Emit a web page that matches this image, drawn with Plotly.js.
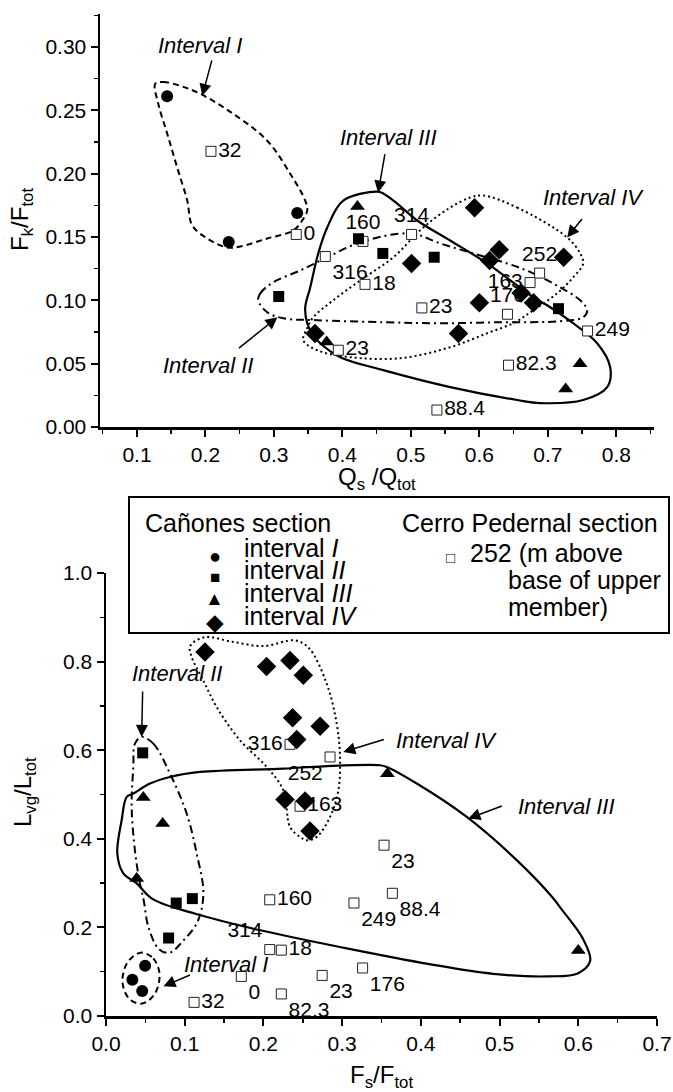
<!DOCTYPE html>
<html><head><meta charset="utf-8">
<script src="https://cdn.plot.ly/plotly-3.0.1.min.js"></script>
<style>html,body{margin:0;padding:0;background:#fff}#chart{width:673px;height:1092px}</style>
</head><body><div id="chart"></div>
<script>
// ---------- Top panel data (Qs/Qtot vs Fk/Ftot) ----------
const topCircleX = [0.144, 0.334, 0.234];
const topCircleY = [0.261, 0.169, 0.146];
const topSquareX = [0.307, 0.4235, 0.459, 0.534, 0.7155];
const topSquareY = [0.103, 0.1486, 0.137, 0.134, 0.0934];
const topTriX = [0.422, 0.377, 0.747, 0.726];
const topTriY = [0.174, 0.067, 0.050, 0.030];
const topDiamondX = [0.593, 0.501, 0.629, 0.615, 0.723, 0.600, 0.661, 0.679, 0.360, 0.5695];
const topDiamondY = [0.173, 0.129, 0.140, 0.1315, 0.134, 0.098, 0.1058, 0.098, 0.0738, 0.0738];
const topCPX = [0.208, 0.3326, 0.430, 0.501, 0.375, 0.433, 0.516, 0.394, 0.688, 0.674, 0.641, 0.758, 0.6425, 0.538];
const topCPY = [0.2176, 0.152, 0.1465, 0.152, 0.1346, 0.1126, 0.094, 0.0606, 0.1215, 0.114, 0.089, 0.0758, 0.0488, 0.0134];
const topCPLabels = ['32','0','160','314','316','18','23','23','252','163','176','249','82.3','88.4'];
const topCPLabelPos = ['middle right','middle right','top center','top center','bottom right','middle right','middle right','middle right','top center','middle left','top center','middle right','middle right','middle right'];

// outlines (top)
const topOutIx = [0.1267,0.1384,0.1632,0.1924,0.2406,0.2902,0.3238,0.3457,0.3486,0.3413,0.3282,0.2902,0.2508,0.2318,0.2026,0.1807,0.1734,0.1588,0.1442,0.1311,0.1267];
const topOutIy = [0.2709,0.2724,0.2693,0.2630,0.2472,0.2260,0.1999,0.1787,0.1709,0.1630,0.1551,0.1488,0.1425,0.1417,0.1488,0.1591,0.1787,0.2047,0.2315,0.2551,0.2709];
const topOutIIx = [0.2771,0.2800,0.2990,0.3384,0.3749,0.4260,0.4990,0.5428,0.5910,0.6406,0.6786,0.7180,0.7472,0.7574,0.7516,0.7180,0.6304,0.5428,0.4596,0.3632,0.3136,0.2902,0.2771];
const topOutIIy = [0.1000,0.1055,0.1142,0.1236,0.1331,0.1457,0.1528,0.1449,0.1370,0.1291,0.1213,0.1102,0.1000,0.0921,0.0866,0.0835,0.0827,0.0819,0.0827,0.0843,0.0858,0.0906,0.1000];
const topOutIIIx = [0.4508,0.4012,0.3778,0.3647,0.3530,0.3457,0.3486,0.3574,0.3676,0.3968,0.4596,0.5574,0.6552,0.6888,0.7516,0.7866,0.7910,0.7720,0.7369,0.6990,0.6786,0.6114,0.5574,0.5092,0.4800,0.4596,0.4508];
const topOutIIIy = [0.1858,0.1787,0.1575,0.1370,0.1102,0.0945,0.0819,0.0724,0.0661,0.0551,0.0449,0.0315,0.0213,0.0189,0.0213,0.0315,0.0472,0.0661,0.0819,0.0961,0.1024,0.1291,0.1472,0.1630,0.1764,0.1843,0.1858];
const topOutIVx = [0.6056,0.6552,0.7282,0.7472,0.7516,0.7369,0.7136,0.6786,0.6523,0.6114,0.5574,0.4844,0.4114,0.3632,0.3428,0.3486,0.3574,0.3866,0.4260,0.4742,0.5180,0.5574,0.5866,0.6056];
const topOutIVy = [0.1827,0.1732,0.1496,0.1370,0.1291,0.1181,0.1055,0.0921,0.0827,0.0740,0.0630,0.0543,0.0551,0.0606,0.0685,0.0780,0.0866,0.1000,0.1157,0.1339,0.1575,0.1732,0.1811,0.1827];

// ---------- Bottom panel data (Fs/Ftot vs Lvg/Ltot) ----------
const botCircleX = [0.0497, 0.0335, 0.046];
const botCircleY = [0.1136, 0.082, 0.0564];
const botSquareX = [0.0466, 0.0892, 0.1097, 0.0795];
const botSquareY = [0.594, 0.255, 0.265, 0.176];
const botTriX = [0.0474, 0.072, 0.039, 0.3575, 0.600];
const botTriY = [0.493, 0.4345, 0.3105, 0.547, 0.148];
const botDiamondX = [0.1258, 0.204, 0.2338, 0.2507, 0.237, 0.272, 0.2423, 0.2274, 0.2529, 0.2592];
const botDiamondY = [0.8215, 0.789, 0.8027, 0.769, 0.6735, 0.654, 0.624, 0.4886, 0.4855, 0.4178];
const botCPX = [0.2338, 0.2846, 0.2465, 0.3532, 0.208, 0.315, 0.3638, 0.208, 0.2227, 0.1719, 0.2227, 0.2746, 0.326, 0.1119];
const botCPY = [0.6133, 0.5847, 0.4735, 0.3856, 0.2623, 0.255, 0.277, 0.150, 0.1487, 0.0894, 0.0498, 0.0916, 0.1084, 0.0308];
const botCPLabels = ['316','252','163','23','160','249','88.4','314','18','0','82.3','23','176','32'];
const botCPLabelPos = ['middle left','bottom left','middle right','bottom right','middle right','bottom right','bottom right','top left','middle right','bottom right','bottom right','bottom right','bottom right','middle right'];

const botOutIx = [0.044,0.060,0.068,0.062,0.046,0.030,0.021,0.027,0.044];
const botOutIy = [0.143,0.130,0.095,0.050,0.028,0.038,0.075,0.120,0.143];
const botOutIIx = [0.0453,0.0601,0.0813,0.1025,0.1152,0.1237,0.1162,0.0973,0.0811,0.0676,0.054,0.048,0.043,0.037,0.0326,0.0347,0.0368,0.0453];
const botOutIIy = [0.630,0.6149,0.5472,0.4570,0.3668,0.2766,0.2125,0.1685,0.1429,0.150,0.20,0.26,0.30,0.37,0.472,0.5621,0.6149,0.630];
const botOutIIIx = [0.0347,0.0559,0.0813,0.1194,0.2253,0.2761,0.3482,0.3567,0.3948,0.4583,0.5218,0.5684,0.5784,0.6054,0.6151,0.600,0.5622,0.4919,0.4108,0.3027,0.1946,0.1135,0.0595,0.039,0.0220,0.0144,0.0199,0.0263,0.0347];
const botOutIIIy = [0.5021,0.5247,0.5396,0.5509,0.5585,0.5637,0.566,0.5621,0.5247,0.4494,0.3518,0.2654,0.2418,0.1758,0.1245,0.0967,0.0894,0.0952,0.1172,0.1538,0.1941,0.2308,0.2637,0.2992,0.3218,0.3668,0.4419,0.4945,0.5021];
const botOutIVx = [0.1089,0.107,0.125,0.16,0.2,0.24,0.258,0.2804,0.2931,0.2973,0.2952,0.2846,0.2677,0.2550,0.2465,0.2338,0.2253,0.2042,0.1703,0.1406,0.1236,0.1089];
const botOutIVy = [0.8101,0.835,0.855,0.845,0.835,0.848,0.83,0.7502,0.66,0.5847,0.5096,0.4494,0.4043,0.3968,0.4043,0.4268,0.5096,0.5621,0.6223,0.6974,0.7576,0.8101];

// ---------- styling ----------
const FONT = 'Liberation Sans, Arial, Helvetica, sans-serif';
const traces = [];
function outline(x, y, dash, xa, ya, w) {
  traces.push({x, y, xaxis: xa, yaxis: ya, mode: 'lines', type: 'scatter', hoverinfo: 'skip',
    line: {color: '#000', width: w || 2, dash, shape: 'spline', smoothing: 1}, showlegend: false});
}
function pts(x, y, symbol, size, xa, ya) {
  traces.push({x, y, xaxis: xa, yaxis: ya, mode: 'markers', type: 'scatter', cliponaxis: false,
    marker: {symbol, size, color: '#000', line: {width: 0}}, showlegend: false});
}
function cp(x, y, text, pos, xa, ya) {
  traces.push({x, y, text, textposition: pos, xaxis: xa, yaxis: ya, mode: 'markers+text', type: 'scatter', cliponaxis: false,
    textfont: {family: FONT, size: 21, color: '#000'},
    marker: {symbol: 'square', size: 10, color: '#fff', line: {width: 1, color: '#222'}}, showlegend: false});
}

outline(topOutIx, topOutIy, '6px,4px', 'x', 'y');
outline(topOutIIx, topOutIIy, '8px,4px,2px,4px', 'x', 'y');
outline(topOutIIIx, topOutIIIy, 'solid', 'x', 'y', 2.2);
outline(topOutIVx, topOutIVy, '2px,3px', 'x', 'y');
outline(botOutIx, botOutIy, '6px,4px', 'x2', 'y2');
outline(botOutIIx, botOutIIy, '8px,4px,2px,4px', 'x2', 'y2');
outline(botOutIIIx, botOutIIIy, 'solid', 'x2', 'y2', 2.2);
outline(botOutIVx, botOutIVy, '2px,3px', 'x2', 'y2');

cp(topCPX, topCPY, topCPLabels, topCPLabelPos, 'x', 'y');
cp(botCPX, botCPY, botCPLabels, botCPLabelPos, 'x2', 'y2');

pts(topCircleX, topCircleY, 'circle', 12, 'x', 'y');
pts(topSquareX, topSquareY, 'square', 11, 'x', 'y');
pts(topTriX, topTriY, 'triangle-up', 13, 'x', 'y');
pts(topDiamondX, topDiamondY, 'diamond', 15, 'x', 'y');
pts(botCircleX, botCircleY, 'circle', 12, 'x2', 'y2');
pts(botSquareX, botSquareY, 'square', 11, 'x2', 'y2');
pts(botTriX, botTriY, 'triangle-up', 13, 'x2', 'y2');
pts(botDiamondX, botDiamondY, 'diamond', 15, 'x2', 'y2');

function axis(extra) {
  return Object.assign({
    showline: true, linewidth: 2.5, linecolor: '#000', mirror: false, showgrid: false, zeroline: false,
    ticks: 'outside', ticklen: 7, tickwidth: 2, tickcolor: '#000', automargin: false,
    tickfont: {family: FONT, size: 21, color: '#000'}
  }, extra);
}

const W = 673, H = 1092;
const ann = [];
function label(text, x, y, xref, yref) {
  ann.push({text: '<i>' + text + '</i>', x, y, xref, yref, showarrow: false, font: {family: FONT, size: 22, color: '#000'}});
}
function arrow(x, y, ax, ay, xref, yref) {
  ann.push({text: '', x, y, ax, ay, xref, yref, showarrow: true, arrowhead: 2, arrowsize: 1.6, arrowwidth: 1.5, arrowcolor: '#000', standoff: 0});
}
label('Interval I', 0.1924, 0.3008, 'x', 'y');            arrow(0.1953, 0.2614, 10, -37, 'x', 'y');
label('Interval II', 0.2041, 0.0488, 'x', 'y');           arrow(0.3051, 0.0866, -40, 32, 'x', 'y');
label('Interval III', 0.4669, 0.2283, 'x', 'y');          arrow(0.4522, 0.1850, 7, -40, 'x', 'y');
label('Interval IV', 0.766, 0.1811, 'x', 'y');            arrow(0.7282, 0.1496, 16, -20, 'x', 'y');
label('Interval I', 0.152, 0.117, 'x2', 'y2');            arrow(0.073, 0.067, 28, -12, 'x2', 'y2');
label('Interval II', 0.0898, 0.7727, 'x2', 'y2');         arrow(0.0453, 0.630, 1, -47, 'x2', 'y2');
label('Interval III', 0.5854, 0.4719, 'x2', 'y2');        arrow(0.4604, 0.4458, 35, -13, 'x2', 'y2');
label('Interval IV', 0.4329, 0.6223, 'x2', 'y2');         arrow(0.3015, 0.596, 42, -13, 'x2', 'y2');

function pap(px, py, text, size, anchor, angle) {
  ann.push({text, x: px / W, y: 1 - py / H, xref: 'paper', yref: 'paper', xanchor: anchor || 'left', yanchor: 'middle',
    textangle: angle || 0, showarrow: false, font: {family: FONT, size: size || 25, color: '#000'}});
}
// axis titles
pap(377, 478, 'Q<sub>s</sub> /Q<sub>tot</sub>', 24, 'center');
pap(22, 220, 'F<sub>k</sub>/F<sub>tot</sub>', 24, 'center', -90);
pap(381, 1076, 'F<sub>s</sub>/F<sub>tot</sub>', 24, 'center');
pap(24, 792, 'L<sub>vg</sub>/L<sub>tot</sub>', 24, 'center', -90);
// legend box contents
pap(143, 523, 'Cañones section');
pap(400, 523, 'Cerro Pedernal section');
pap(215, 556, '●', 20, 'center');
pap(215, 577, '■', 17, 'center');
pap(215, 598, '▲', 19, 'center');
pap(215, 622, '◆', 23, 'center');
pap(242, 548, 'interval <i>I</i>');
pap(242, 570, 'interval <i>II</i>');
pap(242, 593, 'interval <i>III</i>');
pap(242, 616, 'interval <i>IV</i>');
pap(451, 557, '□', 15, 'center');
pap(468, 553, '252 (m above');
pap(506, 580, 'base of upper');
pap(506, 607, 'member)');

const layout = {
  width: W, height: H, margin: {l: 0, r: 0, t: 0, b: 0}, paper_bgcolor: '#fff', plot_bgcolor: '#fff',
  showlegend: false, font: {family: FONT, color: '#000'},
  xaxis: axis({domain: [100 / W, 654 / W], range: [0.046, 0.855], anchor: 'y', dtick: 0.1, tick0: 0, tickformat: '.1f',
    minor: {dtick: 0.05, ticks: 'outside', ticklen: 4, tickwidth: 1.5, tickcolor: '#000'}}),
  yaxis: axis({domain: [1 - 427 / H, 1 - 14 / H], range: [0, 0.326], anchor: 'x', dtick: 0.05, tick0: 0, tickformat: '.2f',
    minor: {dtick: 0.025, ticks: 'outside', ticklen: 4, tickwidth: 1.5, tickcolor: '#000'}}),
  xaxis2: axis({domain: [106 / W, 657 / W], range: [0, 0.7], anchor: 'y2', dtick: 0.1, tick0: 0, tickformat: '.1f',
    minor: {dtick: 0.05, ticks: 'outside', ticklen: 4, tickwidth: 1.5, tickcolor: '#000'}}),
  yaxis2: axis({domain: [1 - 1016 / H, 1 - 573 / H], range: [0, 1.0], anchor: 'x2', dtick: 0.2, tick0: 0, tickformat: '.1f',
    minor: {dtick: 0.1, ticks: 'outside', ticklen: 4, tickwidth: 1.5, tickcolor: '#000'}}),
  shapes: [{type: 'rect', xref: 'paper', yref: 'paper', x0: 129 / W, x1: 669 / W, y0: 1 - 633 / H, y1: 1 - 497 / H,
    line: {color: '#000', width: 2}, fillcolor: '#fff', layer: 'below'}],
  annotations: ann
};
Plotly.newPlot('chart', traces, layout, {displayModeBar: false, staticPlot: true});
</script>
</body></html>
